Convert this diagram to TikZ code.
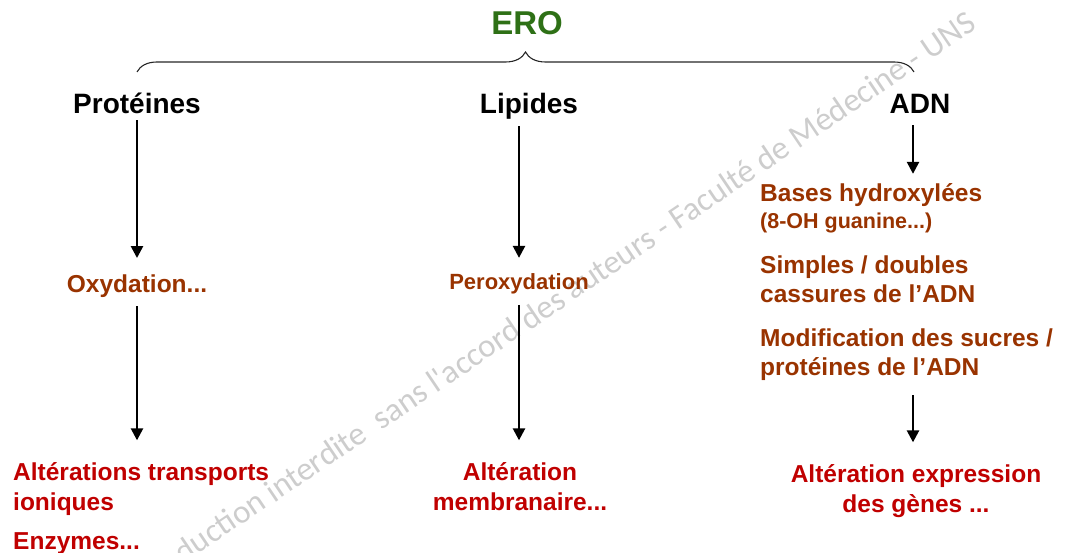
\documentclass[tikz,border=0pt]{standalone}
\usepackage{fontspec}
\setmainfont{Liberation Sans}
\newfontfamily\filigrane{Carlito}
\usetikzlibrary{arrows.meta}
\usetikzlibrary{decorations.pathreplacing}
\definecolor{vertero}{RGB}{46,112,22}
\definecolor{brun}{RGB}{153,51,0}
\definecolor{rouge}{RGB}{192,0,0}
\definecolor{gristrame}{RGB}{205,205,205}

\begin{document}
\begin{tikzpicture}[x=1pt,y=-1pt]
        % Define styles
        \tikzstyle{titre} = [font=\fontsize{33}{38}\selectfont\bfseries, text=vertero, inner sep=0pt]
        \tikzstyle{cible} = [font=\fontsize{28}{33}\selectfont\bfseries, inner sep=0pt]
        \tikzstyle{lesion} = [font=\fontsize{24.5}{29}\selectfont\bfseries, text=brun, inner sep=0pt]
        \tikzstyle{consequence} = [font=\fontsize{24.5}{29.5}\selectfont\bfseries, text=rouge, inner sep=0pt]
        \tikzstyle{fleche} = [draw, line width=2.5pt, -{Triangle[length=12pt,width=12pt]}]
        \tikzstyle{accolade} = [draw=black!85, line width=1.1pt, decorate, decoration={brace, amplitude=20pt}]
        \useasboundingbox (0,0) rectangle (1065,553);

        % Watermark
        \node[rotate=34, text=gristrame, font=\filigrane\fontsize{33}{33}\selectfont] (trame) at (543,311)
            {Reproduction interdite\ \ sans l\textquotesingle accord des auteurs - Faculté de Médecine - UNS};

        % Draw title and brace
        \node[titre, anchor=base] (ero) at (527,35) {ERO};
        \coordinate (accg) at (137,72);
        \coordinate (accd) at (914,72);
        \draw[accolade] (accg) -- (accd);

        % Draw targets
        \node[cible, anchor=base] (prot) at (137,114) {Protéines};
        \node[cible, anchor=base] (lip) at (529,114) {Lipides};
        \node[cible, anchor=base] (adn) at (920,114) {ADN};

        % Draw lesions
        \node[lesion, anchor=base] (oxy) at (137,292) {Oxydation...};
        \node[lesion, font=\fontsize{22}{26}\selectfont\bfseries, anchor=base] (perox) at (519,289) {Peroxydation};
        \node[lesion, anchor=base west] (bases) at (760,202) {Bases hydroxylées};
        \node[lesion, font=\fontsize{21.5}{25}\selectfont\bfseries, anchor=base west] (guan) at (760,229) {(8-OH guanine...)};
        \node[lesion, anchor=base west, align=left] (cass) at (760,302) {Simples / doubles\\cassures de l’ADN};
        \node[lesion, anchor=base west, align=left] (sucres) at (760,375) {Modification des sucres /\\protéines de l’ADN};

        % Draw consequences
        \node[consequence, anchor=base west, align=left] (alt1) at (13,510) {Altérations transports\\ioniques};
        \node[consequence, anchor=base west] (enz) at (13,549) {Enzymes...};
        \node[consequence, anchor=base, align=center] (alt2) at (520,510) {Altération\\membranaire...};
        \node[consequence, anchor=base, align=center] (alt3) at (916,512) {Altération expression\\des gènes ...};

        % Draw arrows
        \draw[fleche, shorten <=6pt, shorten >=16pt] (prot) -- (oxy);
        \draw[fleche, shorten <=9pt, shorten >=22pt] (oxy) -- (oxy.south |- alt1.north);
        \draw[fleche, shorten <=6pt, shorten >=15pt] (lip.south -| perox) -- (perox);
        \draw[fleche, shorten <=11pt, shorten >=22pt] (perox) -- (perox.south |- alt2.north);
        \draw[fleche, shorten <=11pt, shorten >=10pt] ([xshift=-7pt]adn.south) -- ([xshift=-7pt]adn.south |- bases.north);
        \draw[fleche, shorten <=15pt, shorten >=22pt] ([xshift=-7pt]adn.south |- sucres.south) -- ([xshift=-7pt]adn.south |- alt3.north);
    \end{tikzpicture}
\end{document}
